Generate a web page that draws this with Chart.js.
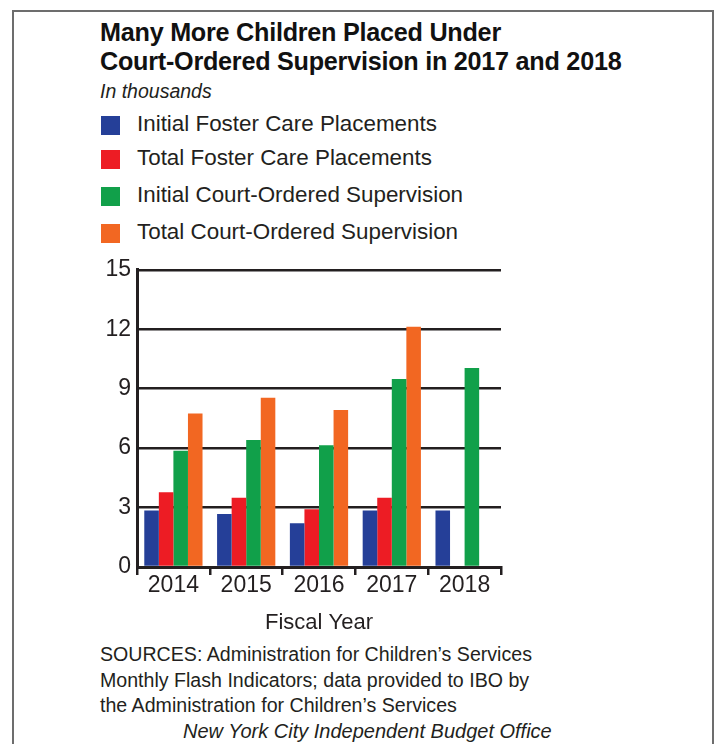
<!DOCTYPE html>
<html>
<head>
<meta charset="utf-8">
<script src="https://cdn.jsdelivr.net/npm/chart.js@4.4.1/dist/chart.umd.min.js"></script>
<style>
    body { margin: 0; background: #fff; font-family: "Liberation Sans", Arial, sans-serif; color: #231f20; }
    #page { position: relative; width: 716px; height: 744px; overflow: hidden; }
    #frame { position: absolute; left: 12px; top: 10px; width: 702px; height: 800px; border: 2px solid #6d6d6d; box-sizing: border-box; }
    .txt { position: absolute; white-space: nowrap; }
    #title { left: 100px; top: 18px; font-weight: bold; font-size: 25.2px; line-height: 29px; color: #111; letter-spacing: -0.25px; }
    #sub { left: 100px; top: 80px; font-style: italic; font-size: 19.5px; }
    .leg { position: absolute; left: 101px; font-size: 22.4px; }
    .leg span.box { position: absolute; left: 0; top: -9px; width: 19px; height: 19px; }
    .leg span.lab { position: absolute; left: 36px; top: -14px; white-space: nowrap; }
    #src { left: 100px; top: 642px; font-size: 19.6px; line-height: 25.5px; }
    #ibo { left: 183px; top: 720px; font-style: italic; font-size: 20px; }
    #chartBox { position: absolute; left: 0; top: 250px; width: 716px; height: 390px; }
</style>
</head>
<body>
<div id="page">
    <div id="frame"></div>
    <div id="title" class="txt">Many More Children Placed Under<br>Court-Ordered Supervision in 2017 and 2018</div>
    <div id="sub" class="txt">In thousands</div>
    <div id="legend"></div>
    <div id="chartBox"><canvas id="chart" width="716" height="390"></canvas></div>
    <div id="src" class="txt">SOURCES: Administration for Children’s Services<br>Monthly Flash Indicators; data provided to IBO by<br>the Administration for Children’s Services</div>
    <div id="ibo" class="txt">New York City Independent Budget Office</div>
</div>
<script>
// values, in thousands
const years = ["2014", "2015", "2016", "2017", "2018"];
const initialFoster = [2.85, 2.67, 2.21, 2.85, 2.85];
const totalFoster = [3.77, 3.5, 2.92, 3.5, null];
const initialCourt = [5.87, 6.41, 6.14, 9.49, 10.05];
const totalCourt = [7.75, 8.54, 7.93, 12.12, null];
const yTicks = [0, 3, 6, 9, 12, 15];

const datasets = [
    { label: "Initial Foster Care Placements", data: initialFoster, backgroundColor: "#253f98" },
    { label: "Total Foster Care Placements", data: totalFoster, backgroundColor: "#ed1c24" },
    { label: "Initial Court-Ordered Supervision", data: initialCourt, backgroundColor: "#11a04a" },
    { label: "Total Court-Ordered Supervision", data: totalCourt, backgroundColor: "#f26722" },
];

// legend built from the datasets
const legendTops = [125, 159, 196, 233];
const legend = document.getElementById("legend");
datasets.forEach((ds, i) => {
    const row = document.createElement("div");
    row.className = "leg";
    row.style.top = legendTops[i] + "px";
    row.innerHTML = '<span class="box" style="background:' + ds.backgroundColor + '"></span><span class="lab">' + ds.label + "</span>";
    legend.appendChild(row);
});

const tickFont = { family: "Liberation Sans", size: 23 };

var ctx = document.getElementById("chart").getContext("2d");
var chart = new Chart(ctx, {
    type: "bar",
    data: { labels: years, datasets: datasets },
    options: {
        responsive: false,
        animation: false,
        layout: { padding: { left: 0, right: 215, top: 19, bottom: 0 } },
        plugins: { legend: { display: false }, tooltip: { enabled: false } },
        datasets: { bar: { categoryPercentage: 0.8, barPercentage: 1.0 } },
        scales: {
            x: {
                grid: { drawOnChartArea: false, drawTicks: true, tickLength: 8, color: "#231f20", lineWidth: 2.5 },
                border: { color: "#231f20", width: 3 },
                ticks: { color: "#231f20", font: tickFont, padding: -3 },
                title: { display: true, text: "Fiscal Year", color: "#231f20", font: { family: "Liberation Sans", size: 22 }, padding: { bottom: 4 } },
                afterFit: (scale) => { scale.height = 73; },
            },
            y: {
                min: 0,
                max: 15,
                afterBuildTicks: (scale) => { scale.ticks = yTicks.map((v) => ({ value: v })); },
                grid: { drawTicks: false, color: "#231f20", lineWidth: 2.5 },
                border: { color: "#231f20", width: 3 },
                ticks: { color: "#231f20", font: tickFont, padding: 6 },
                afterFit: (scale) => { scale.width = 137; },
            },
        },
    },
});
</script>
</body>
</html>
